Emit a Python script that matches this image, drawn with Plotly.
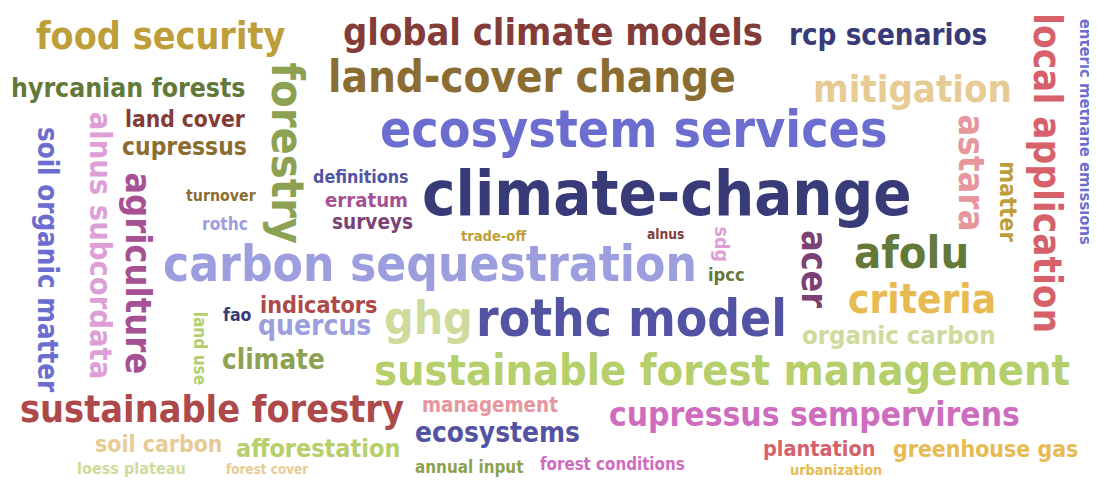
import plotly.graph_objects as go

# ---- data ----
WORDS = [
    "food security", "global climate models", "rcp scenarios", "land-cover change",
    "hyrcanian forests", "mitigation", "ecosystem services", "land cover", "cupressus",
    "climate-change", "definitions", "erratum", "turnover", "surveys", "rothc",
    "trade-off", "alnus", "carbon sequestration", "afolu", "ipcc", "criteria",
    "indicators", "fao", "quercus", "ghg", "rothc model", "organic carbon", "climate",
    "sustainable forest management", "sustainable forestry", "management",
    "cupressus sempervirens", "ecosystems", "soil carbon", "afforestation", "plantation",
    "greenhouse gas", "loess plateau", "forest cover", "annual input", "forest conditions",
    "urbanization", "forestry", "soil organic matter", "alnus subcordata", "agriculture",
    "land use", "local application", "enteric methane emissions", "astara", "matter",
    "acer", "sdg",
]
WEIGHTS = [
    37.4, 37.7, 29.3, 43.6, 26.4, 38, 51.4, 22.6, 24.4,
    62.9, 17.7, 20.2, 15.8, 20.6, 17.2,
    14.6, 13.7, 49.2, 44.9, 18.2, 40.2,
    23.2, 17.6, 28, 46, 51, 25.5, 27.5,
    43, 37.5, 20.4,
    33.3, 27.8, 22.9, 25, 21.5,
    22.9, 16.1, 13.4, 16.9, 16.8,
    14.4, 44.7, 27.5, 30.6, 36,
    17.1, 38.4, 16.5, 36.3, 23.3,
    35.4, 19.5,
]
PALETTE = ["#393b79", "#5254a3", "#6b6ecf", "#9c9ede", "#637939", "#8ca252", "#b5cf6b",
           "#cedb9c", "#8c6d31", "#bd9e39", "#e7ba52", "#e7cb94", "#843c39", "#ad494a",
           "#d6616b", "#e7969c", "#7b4173", "#a55194", "#ce6dbd", "#de9ed6"]
COLOR_IDX = [
    9, 12, 0, 8, 4, 11, 2, 12, 8,
    0, 1, 17, 8, 16, 3,
    9, 12, 3, 4, 4, 10,
    13, 0, 3, 7, 1, 7, 5,
    6, 13, 15,
    18, 1, 11, 6, 14,
    10, 7, 11, 5, 18,
    10, 5, 2, 19, 17,
    6, 14, 2, 15, 9,
    16, 19,
]

# ---- cloud placement (centre of the lowercase body: x, y, rotation) ----
PLACEMENT = [
    (161, 39, 0), (553, 35, 0), (888, 37, 0), (532, 80, 0), (128, 90, 0), (912, 92, 0),
    (633, 133, 0), (185, 121, 0), (184, 148, 0), (667, 198, 0), (361, 178, 0),
    (366, 202, 0), (221, 197, 0), (372, 224, 0), (225, 225, 0), (493, 237, 0),
    (665, 235, 0), (430, 268, 0), (911, 256, 0), (726, 276, 0), (922, 302, 0),
    (319, 306, 0), (237, 316, 0), (314, 328, 0), (428, 321, 0), (631, 322, 0),
    (899, 337, 0), (273, 361, 0), (722, 373, 0), (212, 412, 0), (490, 407, 0),
    (814, 417, 0), (497, 435, 0), (159, 446, 0), (318, 450, 0), (819, 450, 0),
    (985, 451, 0), (131, 470, 0), (267, 471, 0), (469, 468, 0), (612, 465, 0),
    (836, 471, 0),
    (284, 153, 90), (46, 260, 90), (99, 246, 90), (136, 273, 90), (199, 349, 90),
    (1045, 173, 90), (1085, 132, 90), (969, 173, 90), (1007, 202, 90), (812, 269, 90),
    (721, 245, 90),
]

FONT = "DejaVu Sans Condensed, DejaVu Sans, sans-serif"
BODY_SHIFT = 0.076  # offset (in em) between text-box middle and lowercase body centre
PAGE_OFFSET = 8     # default body margin of the written page

fig = go.Figure()
annotations = []
for word, w, ci, (px, py, ang) in zip(WORDS, WEIGHTS, COLOR_IDX, PLACEMENT):
    if ang == 0:
        ax_, ay_ = px, py - BODY_SHIFT * w
    else:
        ax_, ay_ = px + BODY_SHIFT * w, py
    annotations.append(dict(
        x=ax_, y=ay_, xref="x", yref="y", text=f"<b>{word}</b>", showarrow=False,
        textangle=ang, xanchor="center", yanchor="middle",
        font=dict(family=FONT, size=w, color=PALETTE[ci]),
    ))

W, H = 1097, 481
fig.add_trace(go.Scatter(x=[PAGE_OFFSET, W], y=[PAGE_OFFSET, H], mode="markers",
                         marker=dict(opacity=0), hoverinfo="skip", showlegend=False))
fig.update_layout(
    width=W - PAGE_OFFSET, height=H - PAGE_OFFSET, margin=dict(l=0, r=0, t=0, b=0),
    paper_bgcolor="white", plot_bgcolor="white",
    xaxis=dict(range=[PAGE_OFFSET, W], visible=False, fixedrange=True),
    yaxis=dict(range=[H, PAGE_OFFSET], visible=False, fixedrange=True),
    annotations=annotations, showlegend=False,
)
fig.write_html("out.html")
